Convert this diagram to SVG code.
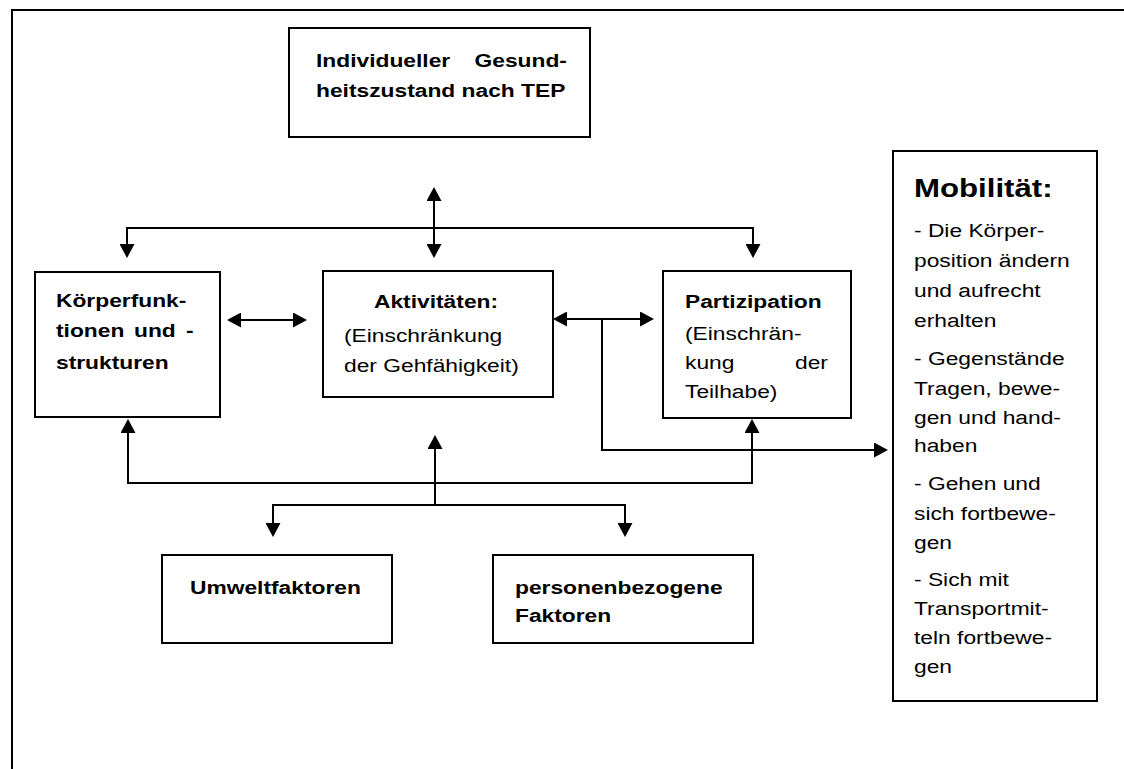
<svg xmlns="http://www.w3.org/2000/svg" width="1124" height="769" viewBox="0 0 1124 769">
<style>
.box{fill:#fff;stroke:#000;stroke-width:2}
.t{font-family:"Liberation Sans",Arial,sans-serif;font-size:19px;fill:#000}
.b{font-weight:bold}
.h{font-size:26px;font-weight:bold}
.c{fill:none;stroke:#000;stroke-width:2}
.a{marker-end:url(#ah)}
.aa{marker-start:url(#ah);marker-end:url(#ah)}
.frame{fill:none;stroke:#000;stroke-width:2}
</style>
<defs>
<marker id="ah" markerUnits="userSpaceOnUse" markerWidth="14" markerHeight="15" viewBox="0 0 14 15" refX="12" refY="7.5" orient="auto-start-reverse"><path d="M0,0 L14,7.5 L0,15 z" fill="#000"/></marker>
</defs>
<rect width="1124" height="769" fill="#fff"/>
<path class="frame" d="M12,770 V10 H1125"/>

<g id="connectors">
<path class="c aa" d="M434,189 V256"/>
<path class="c aa" d="M127,256 V228 H753 V256"/>
<path class="c aa" d="M229,320 H305"/>
<path class="c aa" d="M555,319 H652"/>
<path class="c a" d="M602,319 V450 H886"/>
<path class="c aa" d="M128,421 V483 H752 V421"/>
<path class="c a" d="M435,505 V437"/>
<path class="c aa" d="M273,535 V505 H625 V535"/>
</g>

<g id="gesundheitszustand">
<rect class="box" x="289" y="28" width="301" height="109"/>
<text class="t b" transform="matrix(1.2 0 0 1 316 67)">Individueller</text>
<text class="t b" transform="matrix(1.2 0 0 1 474.5 67)">Gesund-</text>
<text class="t b" transform="matrix(1.2 0 0 1 316 97)">heitszustand nach TEP</text>
</g>

<g id="koerperfunktionen">
<rect class="box" x="35" y="272" width="185" height="145"/>
<text class="t b" transform="matrix(1.2 0 0 1 56 307)">Körperfunk-</text>
<text class="t b" transform="matrix(1.2 0 0 1 56 337)">tionen</text>
<text class="t b" transform="matrix(1.2 0 0 1 134 337)">und</text>
<text class="t b" transform="matrix(1.2 0 0 1 186 337)">-</text>
<text class="t b" transform="matrix(1.2 0 0 1 56 369)">strukturen</text>
</g>

<g id="aktivitaeten">
<rect class="box" x="323" y="271" width="230" height="126"/>
<text class="t b" transform="matrix(1.2 0 0 1 374 308)">Aktivitäten:</text>
<text class="t" transform="matrix(1.2 0 0 1 344 342)">(Einschränkung</text>
<text class="t" transform="matrix(1.2 0 0 1 344 372)">der Gehfähigkeit)</text>
</g>

<g id="partizipation">
<rect class="box" x="663" y="271" width="188" height="147"/>
<text class="t b" transform="matrix(1.2 0 0 1 685 308)">Partizipation</text>
<text class="t" transform="matrix(1.2 0 0 1 685 340)">(Einschrän-</text>
<text class="t" transform="matrix(1.2 0 0 1 685 369)">kung</text>
<text class="t" transform="matrix(1.2 0 0 1 795 369)">der</text>
<text class="t" transform="matrix(1.2 0 0 1 685 398)">Teilhabe)</text>
</g>

<g id="mobilitaet">
<rect class="box" x="893" y="151" width="204" height="550"/>
<text class="t h" transform="matrix(1.2 0 0 1 914 197)">Mobilität:</text>
<text class="t" transform="matrix(1.2 0 0 1 914 237)">- Die Körper-</text>
<text class="t" transform="matrix(1.2 0 0 1 914 267)">position ändern</text>
<text class="t" transform="matrix(1.2 0 0 1 914 297)">und aufrecht</text>
<text class="t" transform="matrix(1.2 0 0 1 914 327)">erhalten</text>
<text class="t" transform="matrix(1.2 0 0 1 914 365)">- Gegenstände</text>
<text class="t" transform="matrix(1.2 0 0 1 914 395)">Tragen, bewe-</text>
<text class="t" transform="matrix(1.2 0 0 1 914 424)">gen und hand-</text>
<text class="t" transform="matrix(1.2 0 0 1 914 452)">haben</text>
<text class="t" transform="matrix(1.2 0 0 1 914 490)">- Gehen und</text>
<text class="t" transform="matrix(1.2 0 0 1 914 520)">sich fortbewe-</text>
<text class="t" transform="matrix(1.2 0 0 1 914 549)">gen</text>
<text class="t" transform="matrix(1.2 0 0 1 914 586)">- Sich mit</text>
<text class="t" transform="matrix(1.2 0 0 1 914 615)">Transportmit-</text>
<text class="t" transform="matrix(1.2 0 0 1 914 644)">teln fortbewe-</text>
<text class="t" transform="matrix(1.2 0 0 1 914 673)">gen</text>
</g>

<g id="umweltfaktoren">
<rect class="box" x="162" y="555" width="230" height="88"/>
<text class="t b" transform="matrix(1.2 0 0 1 190 594)">Umweltfaktoren</text>
</g>

<g id="personenbezogene">
<rect class="box" x="493" y="555" width="260" height="88"/>
<text class="t b" transform="matrix(1.2 0 0 1 515 594)">personenbezogene</text>
<text class="t b" transform="matrix(1.2 0 0 1 515 622)">Faktoren</text>
</g>
</svg>
